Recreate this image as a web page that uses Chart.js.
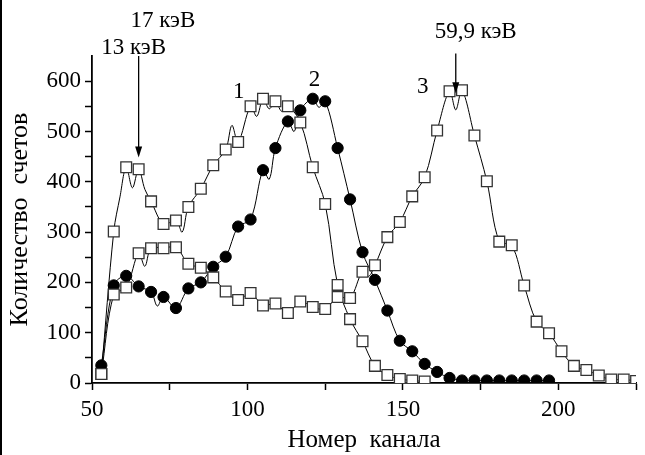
<!DOCTYPE html>
<html lang="ru">
<head>
<meta charset="utf-8">
<title>Спектры</title>
<script src="https://cdn.jsdelivr.net/npm/chart.js@4.4.1/dist/chart.umd.min.js"></script>
<style>
  html, body { margin: 0; padding: 0; background: #fff; }
  #wrap { width: 645px; height: 455px; box-sizing: border-box; border-left: 2px solid #000; }
  canvas { display: block; }
</style>
</head>
<body>
<div id="wrap"><canvas id="spectrum" width="643" height="455"></canvas></div>
<script>
// каналы, в которых стоят маркеры
const channels = [53, 57, 61, 65, 69, 73, 77, 81, 85, 89, 93, 97, 101, 105, 109, 113, 117, 121, 125,
  129, 133, 137, 141, 145, 149, 153, 157, 161, 165, 169, 173, 177, 181, 185, 189, 193, 197, 201, 205,
  209, 213, 217, 221, 225];

// счёт в каналах (по маркерам), кривые 1, 2, 3
const curve1 = [18, 301, 429, 425, 361, 316, 323, 350, 386, 433, 464, 479, 550, 565, 560, 550, 518, 429,
  356, 195, 127, 83, 34, 16, 8, 5, 3];
const curve2 = [35, 194, 213, 192, 181, 171, 149, 188, 200, 231, 251, 311, 325, 423, 467, 520, 542, 565,
  560, 467, 365, 260, 205, 144, 84, 63, 38, 22, 10, 5, 5, 5, 5, 5, 5, 5, 5];
const curve3 = [18, 176, 190, 258, 268, 268, 270, 237, 229, 210, 182, 165, 179, 154, 158, 139, 162, 151,
  147, 171, 169, 221, 234, 290, 320, 371, 409, 502, 580, 582, 492, 401, 281, 274, 194, 122, 99, 63, 34,
  26, 15, 7, 7, 4];

// промежуточные точки линий между маркерами: [канал, счёт]
const curve1Between = [[59, 370], [63, 388], [67, 385], [79, 300], [95, 512], [103, 530], [107, 545], [111, 540]];
const curve2Between = [[71, 153], [107, 405], [115, 500], [123, 548]];
const curve3Between = [[67, 232], [139, 212], [167, 543]];

// подписи кривых и линий спектра
const curveNames = ['1', '2', '3'];
const curveNameAt = [[97.2, 579], [121.6, 603], [156.4, 589]];
const energyNames = ['17 кэВ', '13 кэВ', '59,9 кэВ'];
const energyNameAt = [[72.8, 720], [63.4, 666], [173.4, 697]];
// стрелки: [канал, счёт начала, счёт острия]
const arrows = [[65, 650, 448], [167, 655, 576]];

Chart.defaults.font.family = '"Liberation Serif", "Times New Roman", serif';
Chart.defaults.color = '#000';

function trace(values, between) {
  const pts = values.map((v, i) => ({ x: channels[i], y: v }));
  between.forEach(([x, y]) => pts.push({ x, y }));
  return pts.sort((a, b) => a.x - b.x);
}

function markers(values) {
  return values.map((v, i) => ({ x: channels[i], y: v }));
}

const lineStyle = { borderColor: '#000', borderWidth: 1, pointRadius: 0, tension: 0.35, fill: false, order: 3 };
const squareStyle = { showLine: false, pointStyle: 'rect', pointRadius: 7.6, pointBackgroundColor: '#fff',
  pointBorderColor: '#333', pointBorderWidth: 1.3, order: 1 };
const circleStyle = { showLine: false, pointStyle: 'circle', pointRadius: 5.6, pointBackgroundColor: '#000',
  pointBorderColor: '#000', pointBorderWidth: 1, order: 2 };

const notes = {
  id: 'notes',
  afterDraw(chart) {
    const { ctx, scales: { x, y } } = chart;
    ctx.save();
    ctx.fillStyle = '#000';
    ctx.strokeStyle = '#000';
    ctx.font = '23px "Liberation Serif"';
    ctx.textAlign = 'center';
    ctx.textBaseline = 'middle';
    curveNames.forEach((t, i) => ctx.fillText(t, x.getPixelForValue(curveNameAt[i][0]), y.getPixelForValue(curveNameAt[i][1])));
    energyNames.forEach((t, i) => ctx.fillText(t, x.getPixelForValue(energyNameAt[i][0]), y.getPixelForValue(energyNameAt[i][1])));

    arrows.forEach(([ch, from, to]) => {
      const px = x.getPixelForValue(ch);
      const y0 = y.getPixelForValue(from);
      const y1 = y.getPixelForValue(to);
      ctx.lineWidth = 1.3;
      ctx.beginPath();
      ctx.moveTo(px, y0);
      ctx.lineTo(px, y1 - 9);
      ctx.stroke();
      ctx.beginPath();
      ctx.moveTo(px - 3.5, y1 - 11);
      ctx.lineTo(px + 3.5, y1 - 11);
      ctx.lineTo(px, y1);
      ctx.closePath();
      ctx.fill();
    });
    ctx.restore();
  }
};

new Chart(document.getElementById('spectrum'), {
  type: 'line',
  data: {
    datasets: [
      { ...lineStyle, data: trace(curve1, curve1Between) },
      { ...lineStyle, data: trace(curve2, curve2Between) },
      { ...lineStyle, data: trace(curve3, curve3Between) },
      { ...squareStyle, data: markers(curve1) },
      { ...circleStyle, data: markers(curve2) },
      { ...squareStyle, data: markers(curve3) },
    ],
  },
  options: {
    responsive: false,
    animation: false,
    events: [],
    layout: { padding: { top: 56, right: 8, bottom: 0, left: 0 } },
    plugins: { legend: { display: false }, tooltip: { enabled: false } },
    scales: {
      x: {
        type: 'linear',
        min: 50,
        max: 225,
        border: { color: '#000', width: 1.8 },
        grid: { drawOnChartArea: false, color: '#000', tickLength: 7, tickWidth: 1.5 },
        ticks: {
          stepSize: 25, autoSkip: false, maxRotation: 0, padding: 6, font: { size: 23 },
          callback: (v) => (v % 50 === 0 ? v : ''),
        },
        title: { display: true, text: 'Номер  канала', font: { size: 25 }, padding: { top: 0, bottom: 0 } },
        afterFit(scale) { scale.height = 72; },
      },
      y: {
        min: 0,
        max: 650,
        border: { color: '#000', width: 1.8 },
        grid: { drawOnChartArea: false, color: '#000', tickLength: 7, tickWidth: 1.5 },
        ticks: {
          stepSize: 50, autoSkip: false, padding: 4, font: { size: 23 },
          callback: (v) => (v % 100 === 0 ? v : ''),
        },
        afterBuildTicks(scale) { scale.ticks = scale.ticks.filter((t) => t.value <= 600); },
        title: { display: true, text: 'Количество  счетов', font: { size: 26 }, padding: { top: 3, bottom: 0 } },
        afterFit(scale) { scale.width = 90; },
      },
    },
  },
  plugins: [notes],
});
</script>
</body>
</html>
